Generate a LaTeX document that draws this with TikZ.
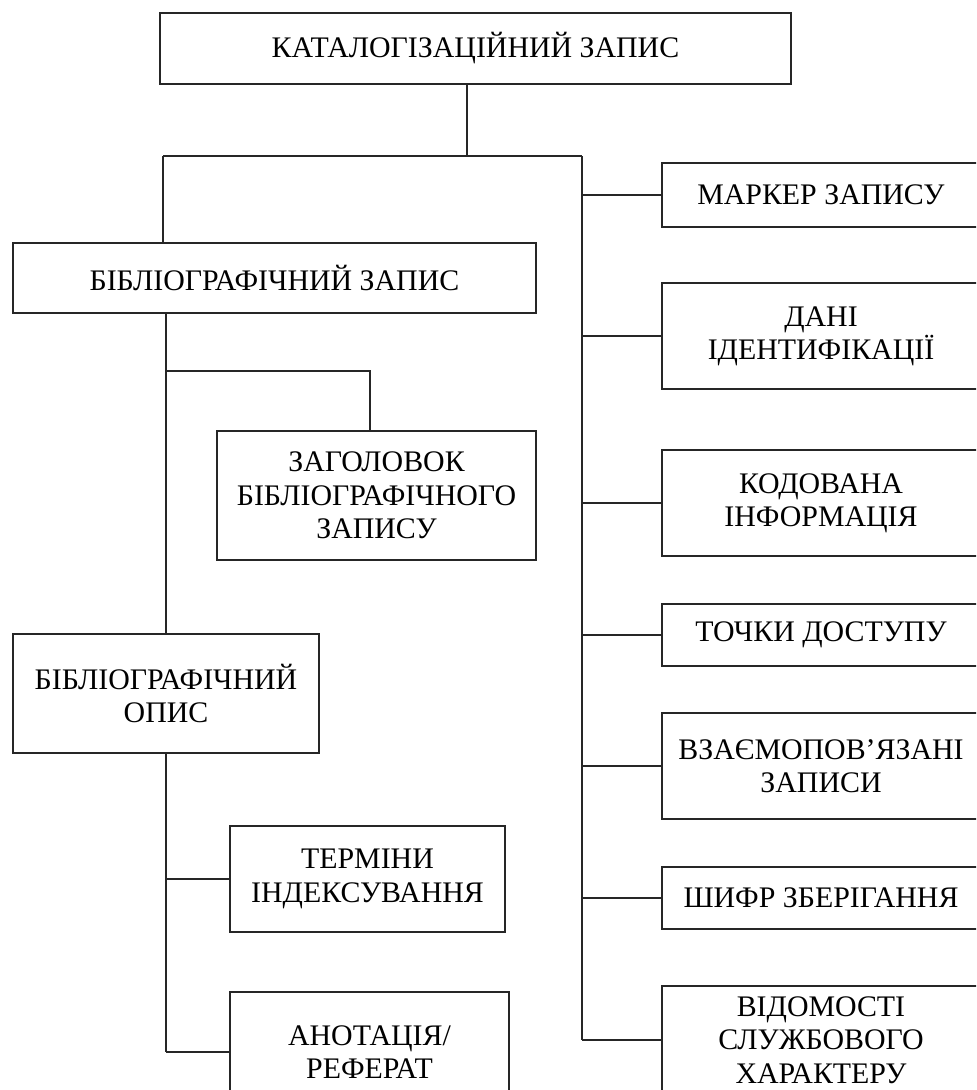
\documentclass[tikz,border=0pt]{standalone}
\usepackage{fontspec}
\setmainfont{Liberation Serif}
\begin{document}
\begin{tikzpicture}[x=0.75pt,y=-0.75pt,
  box/.style={draw=black!85, line width=1pt, align=center, inner sep=0pt,
    font=\fontsize{22.4}{25}\selectfont},
  conn/.style={draw=black!85, line width=1pt}]
\useasboundingbox (0,0) rectangle (976,1090);
\clip (0,0) rectangle (976,1090);
% left / top nodes
\node[box, minimum width=473.25pt, minimum height=53.25pt] (top) at (475.5,48.5) {КАТАЛОГІЗАЦІЙНИЙ ЗАПИС};
\node[box, minimum width=392.25pt, minimum height=52.5pt] (bz) at (274.5,278) {БІБЛІОГРАФІЧНИЙ ЗАПИС};
\node[box, minimum width=239.25pt, minimum height=96.75pt] (zag) at (376.5,495.5) {ЗАГОЛОВОК\\БІБЛІОГРАФІЧНОГО\\ЗАПИСУ};
\node[box, minimum width=229.5pt, minimum height=89.25pt] (bo) at (166,693.5) {БІБЛІОГРАФІЧНИЙ\\ОПИС};
\node[box, minimum width=206.25pt, minimum height=79.5pt] (term) at (367.5,879) {ТЕРМІНИ\\ІНДЕКСУВАННЯ};
\node[box, minimum width=209.25pt, minimum height=90pt] (anot) at (369.5,1052) {АНОТАЦІЯ/\\РЕФЕРАТ};
% right nodes
\node[box, minimum width=238.5pt, minimum height=48pt] (mark) at (821,195) {МАРКЕР ЗАПИСУ};
\node[box, minimum width=238.5pt, minimum height=79.5pt] (dani) at (821,336) {ДАНІ\\ІДЕНТИФІКАЦІЇ};
\node[box, minimum width=238.5pt, minimum height=79.5pt] (kod) at (821,503) {КОДОВАНА\\ІНФОРМАЦІЯ};
\node[box, minimum width=238.5pt, minimum height=46.5pt] (toch) at (821,635) {ТОЧКИ ДОСТУПУ};
\node[box, minimum width=238.5pt, minimum height=79.5pt] (vz) at (821,766) {ВЗАЄМОПОВ’ЯЗАНІ\\ЗАПИСИ};
\node[box, minimum width=238.5pt, minimum height=46.5pt] (shyfr) at (821,898) {ШИФР ЗБЕРІГАННЯ};
\node[box, minimum width=238.5pt, minimum height=81pt] (vid) at (821,1040) {ВІДОМОСТІ\\СЛУЖБОВОГО\\ХАРАКТЕРУ};
% junctions
\coordinate (j1) at (467,156);
\coordinate (jl) at (163,156);
\coordinate (jr) at (582,156);
\coordinate (lt) at (166,371);
\coordinate (zk) at (370,371);
\coordinate (lb) at (166,860);
% connectors
\draw[conn] (top.south -| j1) -- (j1);
\draw[conn] (jl) -- (jr);
\draw[conn] (jl) -- (jl |- bz.north);
\draw[conn] (jr) -- (jr |- vid.west);
\foreach \n in {mark,dani,kod,toch,vz,shyfr,vid}
  \draw[conn] (jr |- \n.west) -- (\n.west);
\draw[conn] (bz.south -| lt) -- (lt |- bo.north);
\draw[conn] (lt) -- (zk) -- (zk |- zag.north);
\draw[conn] (bo.south -| lb) -- (lb |- anot.west);
\draw[conn] (lb |- term.west) -- (term.west);
\draw[conn] (lb |- anot.west) -- (anot.west);
\end{tikzpicture}
\end{document}
